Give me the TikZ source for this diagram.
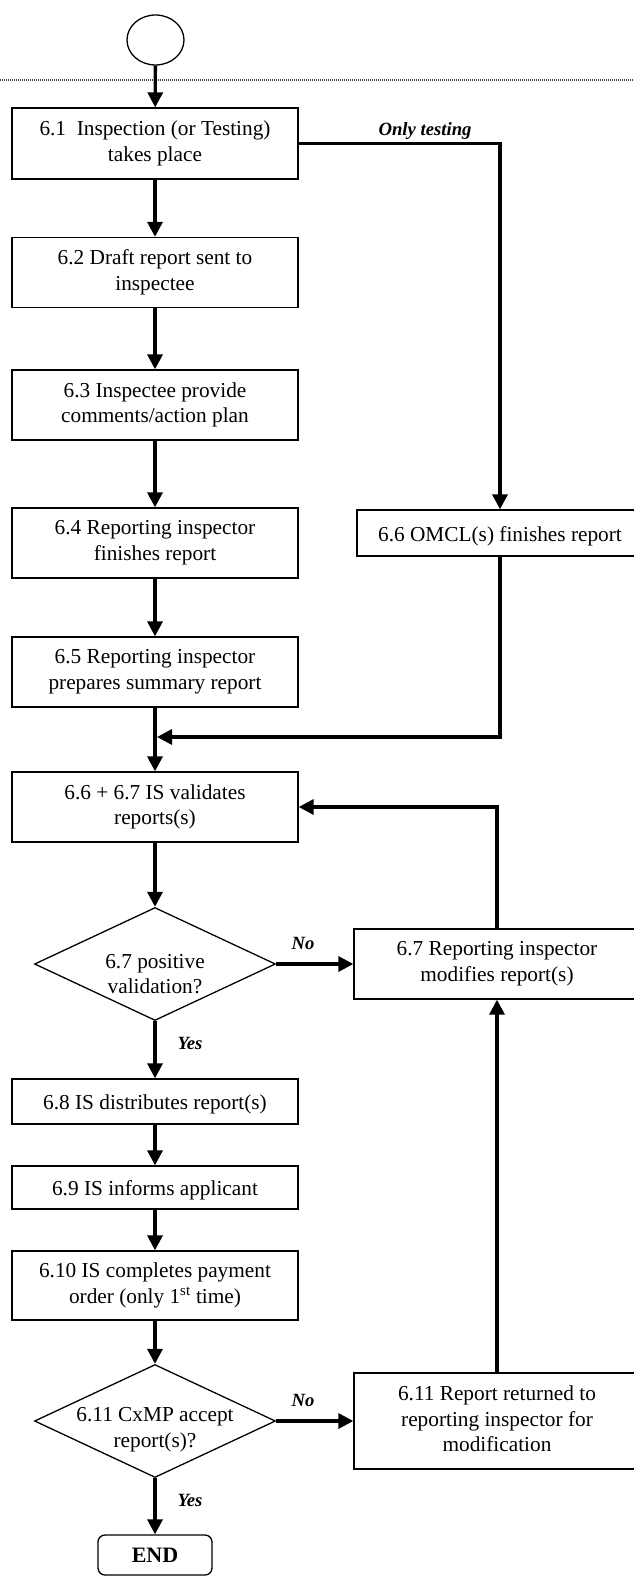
\documentclass[tikz,border=0pt]{standalone}
\usepackage{fontspec}
\setmainfont{Liberation Serif}
\usetikzlibrary{arrows.meta,shapes.geometric,calc}
\newcommand\boxfont{\fontsize{21.3pt}{25.7pt}\selectfont}
\newcommand\lblfont{\fontsize{18.7pt}{22pt}\selectfont\bfseries\itshape}
\newcommand\mytopstrut{\rule{0pt}{21pt}}
\newcommand\mybotstrut{\rule[-4.6pt]{0pt}{4.6pt}}
\begin{document}
\begin{tikzpicture}[x=1pt,y=-1pt,
  box/.style={draw,line width=1.3pt,minimum width=286pt,inner sep=0pt,align=center,font=\boxfont,
    execute at begin node=\mytopstrut, execute at end node=\mybotstrut},
  dia/.style={draw,line width=1.3pt,shape=diamond,minimum width=241pt,minimum height=113pt,inner sep=0pt},
  diatext/.style={align=center,font=\boxfont,inner sep=0pt},
  startc/.style={draw,line width=1.3pt,shape=ellipse,minimum width=57pt,minimum height=50pt,inner sep=0pt},
  endbox/.style={draw,line width=1.3pt,rounded corners=7pt,minimum width=114pt,minimum height=40pt,inner sep=0pt,font=\fontsize{22pt}{26pt}\selectfont\bfseries},
  conn/.style={line width=3.3pt},
  arr/.style={conn,-{Triangle[length=15pt,width=15pt]}},
  lbl/.style={font=\lblfont,inner sep=0pt},
  dotline/.style={line width=2pt,black!75,dash pattern=on 1pt off 1pt}]
\useasboundingbox (0,0) rectangle (634,1576);
\fill[white] (0,0) rectangle (634,1576);

\node[startc] (start) at (155.5,40) {};
\draw[dotline] (0,80) -- (634,80);

\node[box,minimum height=71pt] (b61) at (155,143.5) {6.1\ \ Inspection (or Testing)\\takes place};
\node[box,minimum height=70pt] (b62) at (155,272.5) {6.2 Draft report sent to\\inspectee};
\node[box,minimum height=70pt] (b63) at (155,405) {6.3 Inspectee provide\\comments/action plan};
\node[box,minimum height=70pt] (b64) at (155,543) {6.4 Reporting inspector\\finishes report};
\node[box,minimum height=46pt] (b66o) at (500,533) {6.6 OMCL(s) finishes report};
\node[box,minimum height=70pt] (b65) at (155,672) {6.5 Reporting inspector\\prepares summary report};
\node[box,minimum height=70pt] (b667) at (155,807) {6.6 + 6.7 IS validates\\reports(s)};

\node[dia] (d67) at (155,964) {};
\node[diatext] at (155,974) {6.7 positive\\validation?};
\node[box,minimum height=70pt] (b67m) at (497,964) {6.7 Reporting inspector\\modifies report(s)};

\node[box,minimum height=45pt] (b68) at (155,1101.5) {6.8 IS distributes report(s)};
\node[box,minimum height=43pt] (b69) at (155,1187.5) {6.9 IS informs applicant};
\node[box,minimum height=69pt] (b610) at (155,1285.5) {6.10 IS completes payment\\order (only 1\textsuperscript{st} time)};

\node[dia] (d611) at (155,1421) {};
\node[diatext] at (155,1430) {6.11 CxMP accept\\report(s)?};
\node[box,minimum height=96pt] (b611) at (497,1421) {6.11 Report returned to\\reporting inspector for\\modification};

\node[endbox] (end) at (155,1555) {END};

\coordinate (mergept) at (157,737);

\draw[arr] (start) -- (b61);
\draw[arr] (b61) -- (b62);
\draw[arr] (b62) -- (b63);
\draw[arr] (b63) -- (b64);
\draw[arr] (b64) -- (b65);
\draw[arr] (b65) -- (b667);
\draw[arr] (b61.east) -| (b66o.north);
\draw[arr] (b66o.south) |- (mergept);
\draw[arr] (b667) -- (d67);
\draw[arr] (d67.east) -- (b67m.west);
\draw[arr] (b67m.north) |- (b667.east);
\draw[arr] (d67) -- (b68);
\draw[arr] (b68) -- (b69);
\draw[arr] (b69) -- (b610);
\draw[arr] (b610) -- (d611);
\draw[arr] (d611.east) -- (b611.west);
\draw[arr] (b611.north) -- (b67m.south);
\draw[arr] (d611) -- (end);

\node[lbl] (lot) at (425,131) {Only testing};
\node[lbl] (lno1) at (303,943) {No};
\node[lbl] (lyes1) at (190,1043) {Yes};
\node[lbl] (lno2) at (303,1400) {No};
\node[lbl] (lyes2) at (190,1500) {Yes};
\end{tikzpicture}
\end{document}
